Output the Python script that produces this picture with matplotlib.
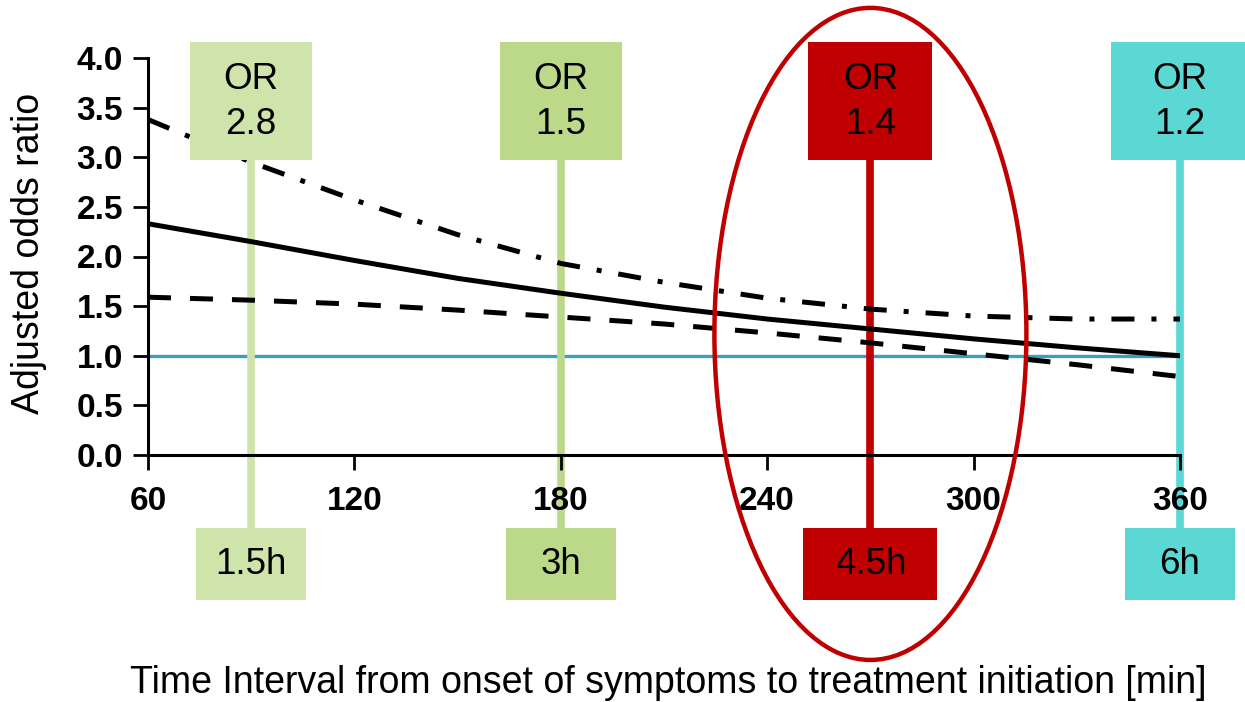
import matplotlib
matplotlib.use('Agg')
import matplotlib.pyplot as plt
from matplotlib.patches import Rectangle, Ellipse

plt.rcParams['font.family'] = ['Liberation Sans', 'DejaVu Sans']

# Data
minutes = [60, 90, 120, 150, 180, 210, 240, 270, 300, 330, 360]
odds_ratio = [2.33, 2.15, 1.96, 1.78, 1.63, 1.49, 1.37, 1.27, 1.17, 1.08, 1.00]
ci_upper = [3.38, 2.95, 2.57, 2.22, 1.93, 1.74, 1.58, 1.47, 1.40, 1.37, 1.37]
ci_lower = [1.59, 1.56, 1.52, 1.46, 1.39, 1.32, 1.23, 1.13, 1.02, 0.91, 0.79]

window_min = [90, 180, 270, 360]
window_or = ['2.8', '1.5', '1.4', '1.2']
window_hours = ['1.5h', '3h', '4.5h', '6h']
window_colors = ['#cfe4aa', '#bcd98a', '#c00000', '#5bd8d4']

xticks = [60, 120, 180, 240, 300, 360]
yticks = [0.0, 0.5, 1.0, 1.5, 2.0, 2.5, 3.0, 3.5, 4.0]

# Layout (data units)
top_w = [35.5, 35.5, 36, 40]
bot_w = [32, 32, 39, 32]
top_y0, top_y1 = 2.97, 4.16
bot_y0, bot_y1 = -1.46, -0.735

fig = plt.figure(figsize=(12.45, 7.02), dpi=100)
ax = fig.add_axes([148 / 1245, 247 / 702, 1032 / 1245, 397 / 702])

ax.axhline(1.0, color='#3a9ec2', lw=2.4, zorder=2)

for x, c in zip(window_min, window_colors):
    ax.plot([x, x], [bot_y1, top_y0], color=c, lw=5.5, clip_on=False, zorder=3,
            solid_capstyle='butt')

ax.plot(minutes, odds_ratio, color='black', lw=3.6, zorder=4)
ax.plot(minutes, ci_lower, color='black', lw=3.6, zorder=4,
        linestyle=(0, (4.6, 3.8)))
ax.plot(minutes, ci_upper, color='black', lw=3.6, zorder=4,
        linestyle=(0, (4.6, 3.4, 1.0, 3.4)))

for x, c, o, h, tw, bw in zip(window_min, window_colors, window_or, window_hours, top_w, bot_w):
    ax.add_patch(Rectangle((x - tw / 2, top_y0), tw, top_y1 - top_y0, facecolor=c,
                           edgecolor='none', clip_on=False, zorder=5))
    ax.add_patch(Rectangle((x - bw / 2, bot_y0), bw, bot_y1 - bot_y0, facecolor=c,
                           edgecolor='none', clip_on=False, zorder=5))
    ax.text(x, 3.78, 'OR', ha='center', va='center', fontsize=26.5, zorder=6, clip_on=False)
    ax.text(x, 3.335, o, ha='center', va='center', fontsize=26.5, zorder=6, clip_on=False)
    ax.text(x, -1.10, h, ha='center', va='center', fontsize=26.5, zorder=6, clip_on=False)

ax.add_patch(Ellipse((270, 1.22), 90.7, 6.57, facecolor='none', edgecolor='#c00000',
                     lw=3.2, clip_on=False, zorder=7))

ax.set_xlim(60, 360)
ax.set_ylim(0, 4.0)
ax.set_xticks(xticks)
ax.set_yticks(yticks)
ax.set_yticklabels(['%.1f' % v for v in yticks])
ax.spines['top'].set_visible(False)
ax.spines['right'].set_visible(False)
for s in ['left', 'bottom']:
    ax.spines[s].set_linewidth(2.2)
    ax.spines[s].set_zorder(4.5)
ax.xaxis.set_zorder(6.5)
ax.tick_params(axis='both', direction='out', length=11, width=2.0, labelsize=24)
ax.tick_params(axis='y', pad=7)
ax.tick_params(axis='x', pad=11)
for lab in ax.get_xticklabels() + ax.get_yticklabels():
    lab.set_fontweight('bold')
ax.patch.set_visible(False)

fig.text(29 / 1245, 1 - 253 / 702, 'Adjusted odds ratio', rotation=90,
         ha='center', va='center', fontsize=27)
fig.text(668 / 1245, 1 - 683 / 702,
         'Time Interval from onset of symptoms to treatment initiation [min]',
         ha='center', va='center', fontsize=27)

fig.savefig('out.png', dpi=100)
